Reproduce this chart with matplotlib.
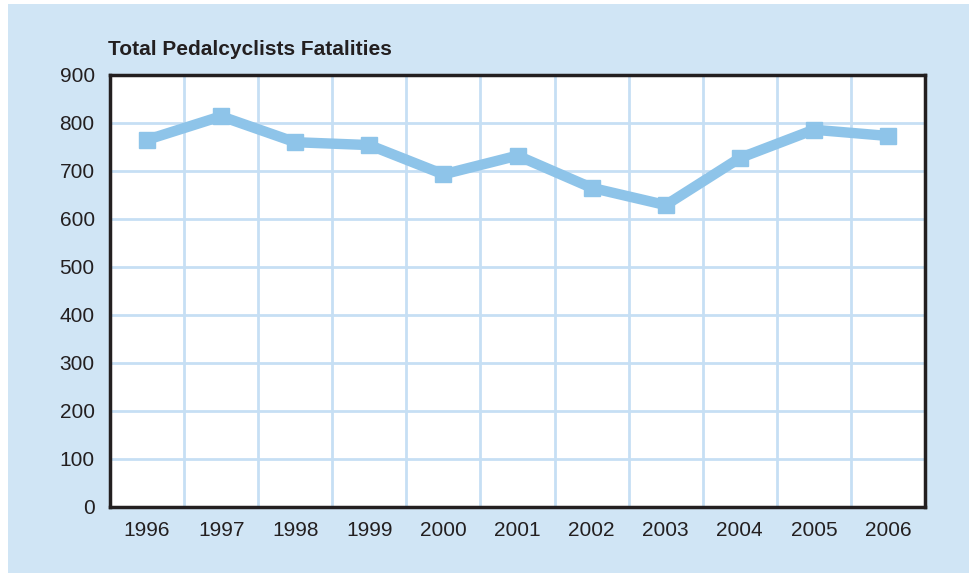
import matplotlib
matplotlib.use("Agg")
import matplotlib.pyplot as plt
import matplotlib.patches as mp

years = ["1996", "1997", "1998", "1999", "2000", "2001", "2002", "2003", "2004", "2005", "2006"]
fatalities = [765, 814, 760, 754, 693, 732, 665, 629, 727, 786, 773]
y_ticks = [0, 100, 200, 300, 400, 500, 600, 700, 800, 900]

bg = "#d0e5f5"
line_col = "#8ec4e9"
grid_col = "#c6dff4"

plt.rcParams['font.family'] = ['Liberation Sans', 'DejaVu Sans']

fig = plt.figure(figsize=(9.69, 5.73), dpi=100)
fig.patch.set_facecolor("white")
# light blue panel behind everything
fig.patches.append(mp.Rectangle((8/969, 0), 1 - 8/969, 1 - 4/573,
                                transform=fig.transFigure, facecolor=bg,
                                edgecolor="none", zorder=-1))

ax = fig.add_axes([110/969, (573-507)/573, (925-110)/969, (507-75)/573])
ax.set_facecolor("white")

x = list(range(len(years)))
ax.plot(x, fatalities, color=line_col, linewidth=7.5, marker="s",
        markersize=12, solid_joinstyle="miter", zorder=3)

ax.set_xlim(-0.5, len(years) - 0.5)
ax.set_ylim(0, 900)
ax.set_yticks(y_ticks)
ax.set_xticks(x)
ax.set_xticklabels(years)

# grid: horizontal at each tick, vertical between categories
for v in y_ticks[1:-1]:
    ax.axhline(v, color=grid_col, linewidth=2, zorder=1)
for i in range(len(years) - 1):
    ax.axvline(i + 0.5, color=grid_col, linewidth=2, zorder=1)

for s in ax.spines.values():
    s.set_color("#231f20")
    s.set_linewidth(2.5)

ax.tick_params(axis="both", length=0, labelsize=15, colors="#231f20")
ax.tick_params(axis="x", pad=10)
ax.tick_params(axis="y", pad=11)

fig.text(108/969, 1 - 55/573, "Total Pedalcyclists Fatalities",
         fontsize=15, fontweight="bold", color="#231f20", ha="left", va="baseline")

fig.savefig("out.png", dpi=100)
